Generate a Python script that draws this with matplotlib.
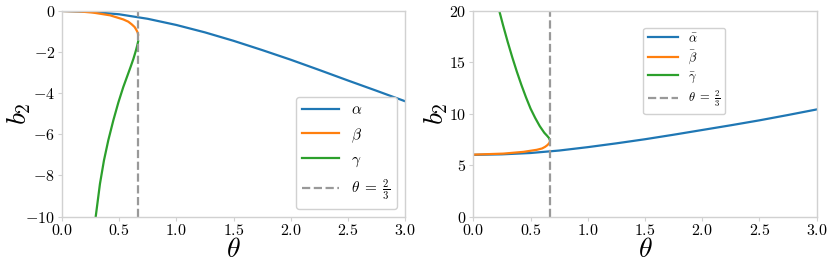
import matplotlib
matplotlib.use("Agg")
import matplotlib.pyplot as plt

plt.rcParams["font.family"] = "serif"
plt.rcParams["font.serif"] = ["cmr10", "DejaVu Serif"]
plt.rcParams["mathtext.fontset"] = "cm"
plt.rcParams["axes.formatter.use_mathtext"] = True

# left panel: roots b_2(theta)
theta_alpha = [0, 0.25, 0.5, 0.75, 1.0, 1.25, 1.5, 1.75, 2.0, 2.25, 2.5, 2.75, 3.0]
alpha = [0, -0.04, -0.16, -0.38, -0.68, -1.04, -1.45, -1.90, -2.37, -2.87, -3.38, -3.88, -4.39]

theta_beta = [0, 0.15, 0.274, 0.42, 0.536, 0.58, 0.61, 0.635, 0.647, 0.657, 0.663, 0.666]
beta = [0, -0.02, -0.08, -0.21, -0.41, -0.52, -0.65, -0.78, -0.89, -0.99, -1.07, -1.15]

theta_gamma = [0.295, 0.332, 0.367, 0.405, 0.449, 0.493, 0.536, 0.57, 0.60, 0.625, 0.645, 0.658, 0.666]
gamma = [-10.0, -8.41, -7.27, -6.29, -5.32, -4.45, -3.70, -3.18, -2.72, -2.32, -1.95, -1.68, -1.48]

# right panel
theta_abar = [0, 0.25, 0.5, 0.75, 1.0, 1.25, 1.5, 1.75, 2.0, 2.25, 2.5, 2.75, 3.0]
abar = [6.0, 6.05, 6.18, 6.42, 6.75, 7.12, 7.52, 7.96, 8.42, 8.88, 9.36, 9.88, 10.42]

theta_bbar = [0, 0.262, 0.437, 0.554, 0.6, 0.627, 0.645, 0.656, 0.663, 0.666]
bbar = [6.02, 6.12, 6.29, 6.49, 6.62, 6.78, 6.93, 7.05, 7.14, 7.22]

theta_gbar = [0.227, 0.26, 0.30, 0.34, 0.38, 0.42, 0.46, 0.50, 0.54, 0.58, 0.62, 0.645, 0.66, 0.666]
gbar = [20.0, 18.6, 17.0, 15.5, 14.1, 12.8, 11.6, 10.5, 9.6, 8.8, 8.15, 7.85, 7.65, 7.5]

theta_crit = 2 / 3

fig = plt.figure(figsize=(8.31, 2.65), dpi=100)
ax1 = fig.add_axes([0.0746, 0.183, 0.4128, 0.7755])
ax2 = fig.add_axes([0.5696, 0.183, 0.4132, 0.7755])

for ax in (ax1, ax2):
    for s in ax.spines.values():
        s.set_color("0.82")
        s.set_linewidth(1.0)
    ax.tick_params(colors="0.82", labelcolor="black", length=3, labelsize=11.5, pad=2)
    ax.set_xlim(0, 3)
    ax.set_xlabel(r"$\theta$", fontsize=20)
    ax.set_ylabel(r"$b_2$", fontsize=20)
    ax.xaxis.set_label_coords(0.5, -0.1)

ax1.yaxis.set_label_coords(-0.085, 0.5)
ax2.yaxis.set_label_coords(-0.068, 0.5)

ax1.plot(theta_alpha, alpha, color="C0", lw=1.6, label=r"$\alpha$")
ax1.plot(theta_beta, beta, color="C1", lw=1.6, label=r"$\beta$")
ax1.plot(theta_gamma, gamma, color="C2", lw=1.6, label=r"$\gamma$")
ax1.axvline(theta_crit, color="0.6", ls="--", lw=1.6, label=r"$\theta\;=\;\frac{2}{3}$")
ax1.set_ylim(-10, 0)
ax1.set_yticks([-10, -8, -6, -4, -2, 0])
ax1.legend(loc="lower right", fontsize=11, handlelength=2.4, labelspacing=0.55,
           edgecolor="0.82", framealpha=1.0, borderpad=0.45)

ax2.plot(theta_abar, abar, color="C0", lw=1.6, label=r"$\bar{\alpha}$")
ax2.plot(theta_bbar, bbar, color="C1", lw=1.6, label=r"$\bar{\beta}$")
ax2.plot(theta_gbar, gbar, color="C2", lw=1.6, label=r"$\bar{\gamma}$")
ax2.axvline(theta_crit, color="0.6", ls="--", lw=1.6, label=r"$\theta\;=\;\frac{2}{3}$")
ax2.set_ylim(0, 20)
ax2.set_yticks([0, 5, 10, 15, 20])
ax2.legend(loc="upper left", bbox_to_anchor=(0.476, 0.95), fontsize=9, handlelength=2.4,
           labelspacing=0.33, edgecolor="0.82", framealpha=1.0, borderpad=0.4)

fig.savefig("out.png", dpi=100)
